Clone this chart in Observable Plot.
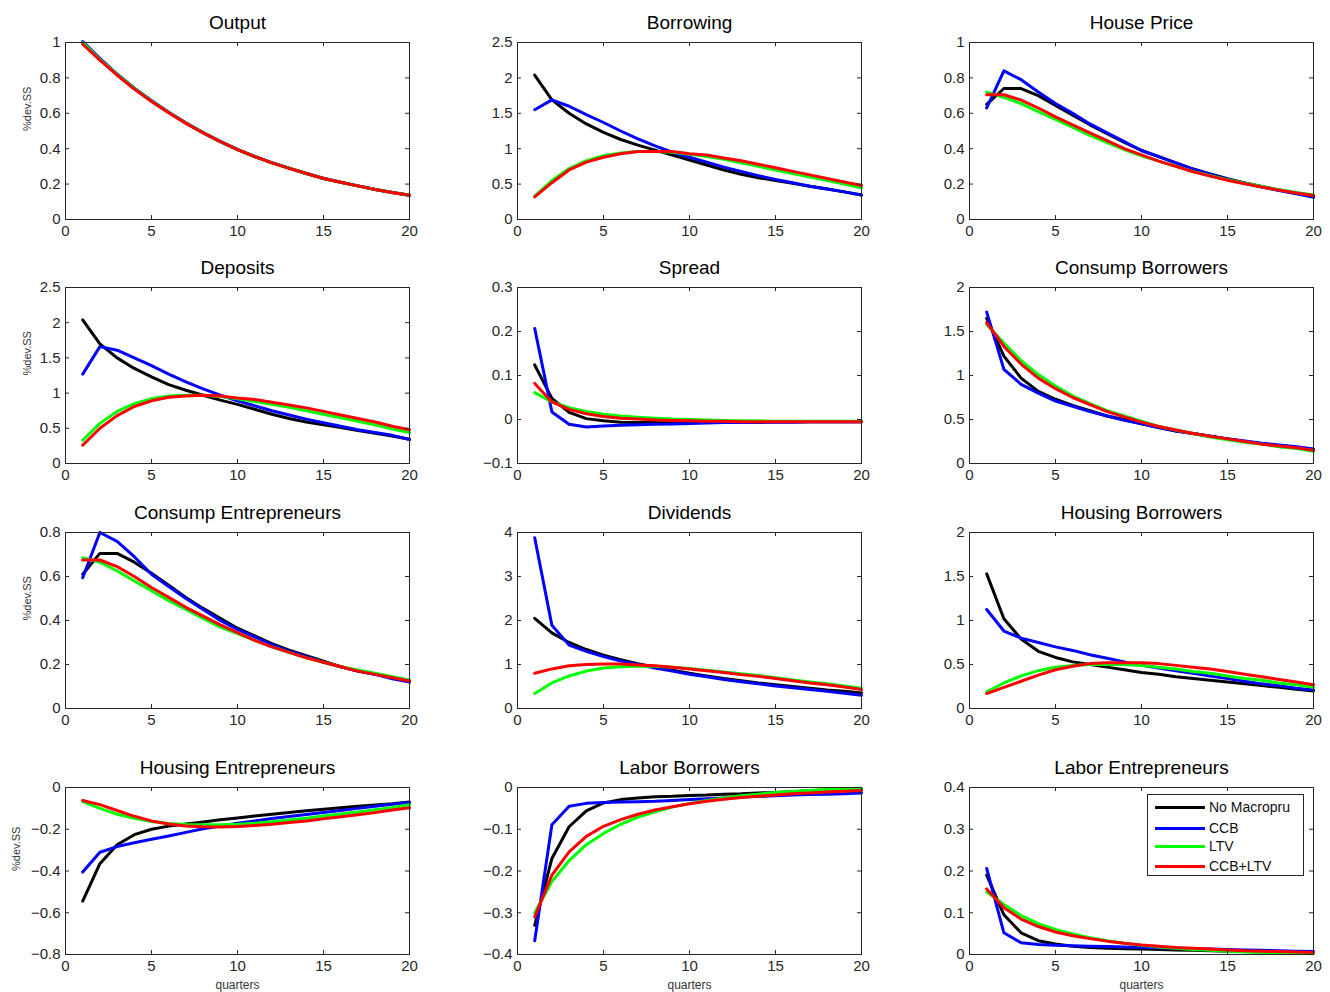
<!DOCTYPE html>
<html><head><meta charset="utf-8">
<script src="https://cdn.jsdelivr.net/npm/d3@7"></script>
<script src="https://cdn.jsdelivr.net/npm/@observablehq/plot@0.6"></script>
<style>
body{margin:0;background:#fff;}
#wrap{position:relative;width:1330px;height:992px;overflow:hidden;font-family:"Liberation Sans",Arial,sans-serif;background:#fff;}
.panel{position:absolute;}
#legend{position:absolute;left:1147px;top:794px;width:155px;height:80px;border:1px solid #262626;background:#fff;}
#legend .row{position:absolute;left:0;height:18px;width:155px;}
#legend .sw{position:absolute;left:7px;top:8px;width:50px;height:3px;}
#legend .lb{position:absolute;left:61px;top:0;font-size:14px;line-height:18px;color:#111;white-space:nowrap;}
</style></head><body><div id="wrap"></div>
<script>
const quarters = [1,2,3,4,5,6,7,8,9,10,11,12,13,14,15,16,17,18,19,20];
const seriesNames = ["No Macropru","CCB","LTV","CCB+LTV"];
const seriesColors = ["#000000","#0000ff","#00ff00","#ff0000"];
const xTicks = [0,5,10,15,20];

const titles = ["Output","Borrowing","House Price","Deposits","Spread","Consump Borrowers",
  "Consump Entrepreneurs","Dividends","Housing Borrowers","Housing Entrepreneurs","Labor Borrowers","Labor Entrepreneurs"];
const yTicks = [
  [0,0.2,0.4,0.6,0.8,1],
  [0,0.5,1,1.5,2,2.5],
  [0,0.2,0.4,0.6,0.8,1],
  [0,0.5,1,1.5,2,2.5],
  [-0.1,0,0.1,0.2,0.3],
  [0,0.5,1,1.5,2],
  [0,0.2,0.4,0.6,0.8],
  [0,1,2,3,4],
  [0,0.5,1,1.5,2],
  [-0.8,-0.6,-0.4,-0.2,0],
  [-0.4,-0.3,-0.2,-0.1,0],
  [0,0.1,0.2,0.3,0.4]
];

// each: [No Macropru, CCB, LTV, CCB+LTV]
const output = [
  [1.00,0.905,0.82,0.74,0.67,0.605,0.545,0.49,0.44,0.395,0.355,0.32,0.29,0.26,0.232,0.21,0.19,0.17,0.153,0.137],
  [1.005,0.91,0.822,0.742,0.672,0.606,0.546,0.491,0.441,0.396,0.356,0.321,0.29,0.26,0.233,0.21,0.19,0.17,0.153,0.137],
  [1.00,0.905,0.82,0.74,0.67,0.605,0.545,0.49,0.44,0.395,0.355,0.32,0.29,0.26,0.232,0.21,0.19,0.17,0.153,0.137],
  [0.99,0.90,0.815,0.737,0.667,0.603,0.543,0.489,0.44,0.395,0.355,0.32,0.289,0.26,0.232,0.21,0.19,0.17,0.153,0.137]
];
const borrowing = [
  [2.04,1.69,1.50,1.35,1.23,1.13,1.05,0.98,0.91,0.84,0.77,0.70,0.64,0.59,0.55,0.51,0.47,0.43,0.39,0.345],
  [1.55,1.69,1.60,1.48,1.37,1.25,1.14,1.04,0.95,0.88,0.81,0.74,0.68,0.62,0.565,0.52,0.47,0.43,0.39,0.345],
  [0.33,0.55,0.72,0.83,0.90,0.94,0.96,0.96,0.95,0.92,0.89,0.85,0.80,0.75,0.70,0.65,0.60,0.55,0.50,0.445],
  [0.32,0.52,0.70,0.81,0.88,0.93,0.96,0.96,0.96,0.93,0.91,0.87,0.83,0.78,0.73,0.68,0.63,0.58,0.53,0.48]
];
const housePrice = [
  [0.65,0.74,0.74,0.70,0.645,0.59,0.535,0.485,0.435,0.39,0.355,0.32,0.285,0.258,0.23,0.207,0.186,0.167,0.148,0.13],
  [0.63,0.84,0.79,0.72,0.655,0.60,0.54,0.49,0.44,0.39,0.355,0.32,0.285,0.255,0.228,0.205,0.184,0.164,0.145,0.125],
  [0.72,0.69,0.655,0.61,0.565,0.52,0.475,0.435,0.395,0.36,0.33,0.30,0.272,0.247,0.225,0.205,0.186,0.168,0.152,0.138],
  [0.705,0.705,0.675,0.63,0.58,0.535,0.49,0.445,0.40,0.365,0.33,0.30,0.27,0.245,0.222,0.202,0.183,0.166,0.15,0.135]
];
const deposits = [
  [2.04,1.70,1.50,1.35,1.23,1.12,1.04,0.97,0.90,0.84,0.77,0.70,0.64,0.59,0.55,0.51,0.47,0.43,0.39,0.345],
  [1.27,1.66,1.61,1.50,1.39,1.27,1.16,1.06,0.97,0.89,0.82,0.75,0.69,0.63,0.58,0.53,0.48,0.44,0.40,0.34],
  [0.33,0.57,0.74,0.85,0.92,0.96,0.97,0.97,0.95,0.92,0.88,0.84,0.80,0.75,0.70,0.65,0.60,0.55,0.49,0.44],
  [0.26,0.50,0.68,0.81,0.89,0.94,0.96,0.97,0.96,0.93,0.91,0.87,0.83,0.79,0.74,0.69,0.64,0.59,0.53,0.48]
];
const spread = [
  [0.124,0.048,0.016,0.002,-0.003,-0.006,-0.007,-0.007,-0.007,-0.007,-0.006,-0.006,-0.006,-0.006,-0.005,-0.005,-0.005,-0.005,-0.005,-0.005],
  [0.207,0.017,-0.011,-0.017,-0.015,-0.013,-0.012,-0.011,-0.010,-0.009,-0.008,-0.007,-0.007,-0.006,-0.006,-0.006,-0.005,-0.005,-0.005,-0.005],
  [0.061,0.040,0.027,0.018,0.012,0.008,0.005,0.003,0.001,0.0,-0.001,-0.002,-0.003,-0.003,-0.004,-0.004,-0.004,-0.004,-0.004,-0.004],
  [0.082,0.040,0.023,0.013,0.007,0.003,0.001,-0.001,-0.002,-0.003,-0.004,-0.004,-0.005,-0.005,-0.005,-0.005,-0.005,-0.005,-0.005,-0.005]
];
const consumpBorrowers = [
  [1.65,1.22,0.97,0.82,0.73,0.66,0.60,0.54,0.50,0.45,0.41,0.37,0.34,0.31,0.28,0.25,0.225,0.205,0.185,0.16],
  [1.72,1.07,0.90,0.80,0.71,0.65,0.59,0.54,0.49,0.45,0.41,0.37,0.34,0.31,0.28,0.255,0.23,0.21,0.19,0.165],
  [1.58,1.37,1.17,1.01,0.88,0.77,0.68,0.60,0.54,0.48,0.42,0.38,0.34,0.30,0.27,0.24,0.22,0.19,0.17,0.14],
  [1.60,1.33,1.13,0.97,0.85,0.75,0.67,0.59,0.53,0.47,0.42,0.38,0.34,0.31,0.28,0.25,0.22,0.20,0.18,0.15]
];
const consumpEntrepreneurs = [
  [0.61,0.705,0.705,0.665,0.615,0.56,0.505,0.455,0.41,0.365,0.33,0.295,0.265,0.24,0.215,0.19,0.17,0.155,0.14,0.125],
  [0.594,0.80,0.76,0.69,0.61,0.555,0.50,0.45,0.40,0.36,0.325,0.29,0.26,0.235,0.21,0.19,0.17,0.155,0.135,0.12],
  [0.685,0.665,0.625,0.58,0.535,0.49,0.45,0.41,0.37,0.34,0.31,0.28,0.255,0.23,0.21,0.19,0.175,0.16,0.145,0.13],
  [0.675,0.675,0.645,0.60,0.55,0.505,0.46,0.42,0.38,0.345,0.31,0.28,0.255,0.23,0.21,0.19,0.17,0.155,0.14,0.125]
];
const dividends = [
  [2.05,1.72,1.50,1.34,1.21,1.11,1.02,0.94,0.87,0.80,0.74,0.68,0.63,0.58,0.54,0.50,0.46,0.42,0.39,0.35],
  [3.88,1.89,1.44,1.30,1.18,1.08,1.00,0.92,0.85,0.78,0.72,0.66,0.61,0.56,0.51,0.47,0.43,0.39,0.345,0.30],
  [0.34,0.58,0.74,0.85,0.92,0.95,0.96,0.96,0.94,0.91,0.87,0.83,0.79,0.75,0.70,0.65,0.60,0.56,0.51,0.46],
  [0.80,0.90,0.97,1.00,1.01,1.01,0.99,0.97,0.94,0.90,0.86,0.82,0.77,0.73,0.68,0.63,0.58,0.54,0.49,0.43]
];
const housingBorrowers = [
  [1.53,1.02,0.79,0.65,0.58,0.53,0.50,0.47,0.44,0.41,0.39,0.36,0.34,0.32,0.30,0.28,0.26,0.24,0.22,0.20],
  [1.125,0.88,0.80,0.75,0.70,0.66,0.61,0.57,0.53,0.49,0.46,0.43,0.40,0.37,0.34,0.31,0.28,0.26,0.23,0.21],
  [0.19,0.29,0.37,0.43,0.47,0.49,0.50,0.50,0.50,0.49,0.47,0.45,0.42,0.40,0.37,0.34,0.32,0.29,0.27,0.24],
  [0.17,0.24,0.31,0.38,0.44,0.48,0.51,0.52,0.52,0.52,0.51,0.49,0.47,0.45,0.42,0.39,0.36,0.33,0.30,0.27]
];
const housingEntrepreneurs = [
  [-0.544,-0.365,-0.274,-0.226,-0.20,-0.185,-0.175,-0.165,-0.155,-0.146,-0.137,-0.128,-0.12,-0.111,-0.104,-0.097,-0.09,-0.084,-0.078,-0.07],
  [-0.405,-0.31,-0.283,-0.265,-0.248,-0.232,-0.215,-0.198,-0.184,-0.171,-0.16,-0.149,-0.139,-0.129,-0.12,-0.11,-0.10,-0.09,-0.08,-0.072],
  [-0.068,-0.10,-0.128,-0.148,-0.163,-0.172,-0.177,-0.179,-0.179,-0.176,-0.171,-0.164,-0.156,-0.147,-0.137,-0.127,-0.117,-0.106,-0.096,-0.083],
  [-0.062,-0.082,-0.11,-0.138,-0.16,-0.175,-0.184,-0.188,-0.189,-0.187,-0.182,-0.176,-0.168,-0.16,-0.15,-0.14,-0.13,-0.12,-0.108,-0.097]
];
const laborBorrowers = [
  [-0.33,-0.17,-0.094,-0.056,-0.037,-0.029,-0.025,-0.022,-0.021,-0.019,-0.018,-0.016,-0.015,-0.013,-0.012,-0.010,-0.008,-0.006,-0.005,-0.004],
  [-0.367,-0.089,-0.045,-0.038,-0.036,-0.035,-0.034,-0.033,-0.031,-0.029,-0.027,-0.025,-0.023,-0.021,-0.020,-0.018,-0.017,-0.016,-0.015,-0.013],
  [-0.30,-0.225,-0.175,-0.137,-0.11,-0.088,-0.071,-0.058,-0.047,-0.038,-0.031,-0.025,-0.020,-0.016,-0.012,-0.009,-0.007,-0.005,-0.003,-0.002],
  [-0.31,-0.21,-0.154,-0.117,-0.093,-0.077,-0.064,-0.054,-0.046,-0.039,-0.033,-0.028,-0.024,-0.021,-0.018,-0.015,-0.013,-0.011,-0.009,-0.007]
];
const laborEntrepreneurs = [
  [0.19,0.095,0.052,0.033,0.025,0.02,0.017,0.015,0.014,0.013,0.012,0.011,0.010,0.009,0.008,0.007,0.006,0.006,0.005,0.005],
  [0.206,0.052,0.028,0.024,0.022,0.021,0.020,0.019,0.018,0.017,0.016,0.015,0.014,0.013,0.012,0.011,0.010,0.009,0.008,0.007],
  [0.15,0.12,0.093,0.074,0.06,0.049,0.04,0.033,0.027,0.022,0.018,0.015,0.012,0.010,0.008,0.006,0.005,0.004,0.003,0.002],
  [0.157,0.112,0.085,0.067,0.054,0.045,0.038,0.032,0.027,0.023,0.020,0.017,0.015,0.013,0.011,0.009,0.008,0.007,0.006,0.005]
];
const panelValues = [output,borrowing,housePrice,deposits,spread,consumpBorrowers,
  consumpEntrepreneurs,dividends,housingBorrowers,housingEntrepreneurs,laborBorrowers,laborEntrepreneurs];

// layout
const frameW = 344;
const colLeft = [65,517,969];
const rowTop = [42,287,532,787];
const rowH = [177,176,176,167];
const ink = "#262626";
const fmt = d => d < 0 ? "\u2212" + String(-d) : String(d);

const wrap = document.getElementById("wrap");
titles.forEach((title, i) => {
  const r = Math.floor(i / 3), c = i % 3;
  const mL = 60, mR = 15, mT = 42, mB = r === 3 ? 45 : 30;
  const fh = rowH[r];
  const ticks = yTicks[i];
  const data = [];
  panelValues[i].forEach((arr, s) => arr.forEach((v, k) => data.push({q: quarters[k], v, s: seriesNames[s]})));
  const marks = [
    Plot.line(data, {x: "q", y: "v", z: "s", stroke: "s", strokeWidth: 3, strokeLinejoin: "round", strokeLinecap: "round"}),
    Plot.frame({stroke: ink, strokeWidth: 1}),
    Plot.tickX(xTicks, {x: d => d, insetTop: fh - 4, stroke: ink}),
    Plot.tickX(xTicks, {x: d => d, insetBottom: fh - 4, stroke: ink}),
    Plot.tickY(ticks, {y: d => d, insetRight: frameW - 4, stroke: ink}),
    Plot.tickY(ticks, {y: d => d, insetLeft: frameW - 4, stroke: ink}),
    Plot.axisX({ticks: xTicks, tickSize: 0, tickPadding: 6, fontSize: 15, tickFormat: fmt, label: null, fill: ink}),
    Plot.axisY({ticks: ticks, tickSize: 0, tickPadding: 5, fontSize: 15, tickFormat: fmt, label: null, fill: ink}),
    Plot.text([title], {frameAnchor: "top", dy: -27, fontSize: 19, fill: "#000"})
  ];
  if (c === 0) marks.push(Plot.text(["%dev.SS"], {frameAnchor: "left", dx: r === 3 ? -49 : -38, rotate: -90, fontSize: 11, fill: "#333"}));
  if (r === 3) marks.push(Plot.text(["quarters"], {frameAnchor: "bottom", dy: 34, fontSize: 12, fill: "#333"}));
  const svg = Plot.plot({
    width: mL + frameW + mR,
    height: mT + fh + mB,
    marginLeft: mL, marginRight: mR, marginTop: mT, marginBottom: mB,
    x: {domain: [0, 20]},
    y: {domain: [ticks[0], ticks[ticks.length - 1]]},
    color: {domain: seriesNames, range: seriesColors},
    style: {fontFamily: '"Liberation Sans", Arial, sans-serif', background: "transparent", overflow: "visible"},
    marks
  });
  svg.classList.add("panel");
  svg.style.left = (colLeft[c] - mL) + "px";
  svg.style.top = (rowTop[r] - mT) + "px";
  wrap.appendChild(svg);
});

// legend
const legend = document.createElement("div");
legend.id = "legend";
const rowY = [3, 24, 42, 62];
seriesNames.forEach((name, s) => {
  const row = document.createElement("div");
  row.className = "row";
  row.style.top = rowY[s] + "px";
  row.innerHTML = `<div class="sw" style="background:${seriesColors[s]}"></div><div class="lb">${name}</div>`;
  legend.appendChild(row);
});
wrap.appendChild(legend);
</script>
</body></html>
